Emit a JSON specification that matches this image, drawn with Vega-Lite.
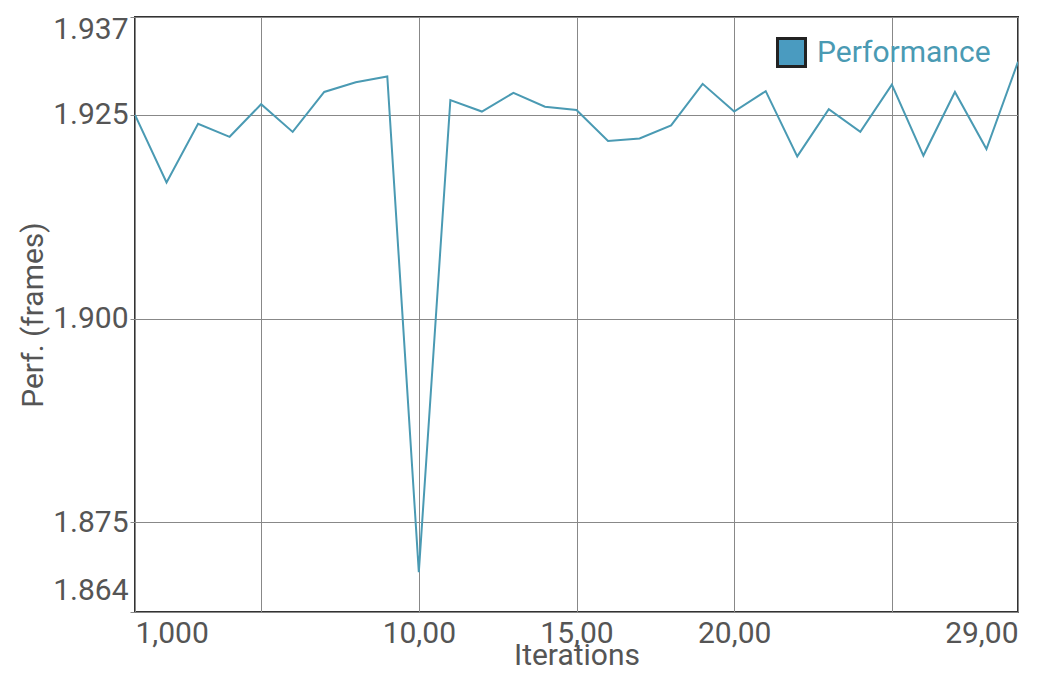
{
  "$schema": "https://vega.github.io/schema/vega-lite/v6.json",
  "width": 883,
  "height": 595,
  "autosize": "none",
  "padding": {"left": 135, "top": 17, "right": 40, "bottom": 76},
  "background": "white",
  "config": {
    "font": "Roboto",
    "view": {"stroke": "#333333", "strokeWidth": 2},
    "axis": {
      "labelFont": "Roboto",
      "labelFontSize": 30,
      "labelColor": "#555555",
      "titleFont": "Roboto",
      "titleFontSize": 30,
      "titleFontWeight": "normal",
      "titleColor": "#555555",
      "gridColor": "#888888",
      "gridWidth": 1,
      "gridOpacity": 1,
      "domain": false,
      "tickColor": "#888888"
    }
  },
  "data": {
    "values": [
      {"iter": 1, "perf": 1.9250, "series": "Performance"},
      {"iter": 2, "perf": 1.9167, "series": "Performance"},
      {"iter": 3, "perf": 1.9239, "series": "Performance"},
      {"iter": 4, "perf": 1.9223, "series": "Performance"},
      {"iter": 5, "perf": 1.9263, "series": "Performance"},
      {"iter": 6, "perf": 1.9229, "series": "Performance"},
      {"iter": 7, "perf": 1.9278, "series": "Performance"},
      {"iter": 8, "perf": 1.9290, "series": "Performance"},
      {"iter": 9, "perf": 1.9297, "series": "Performance"},
      {"iter": 10, "perf": 1.8689, "series": "Performance"},
      {"iter": 11, "perf": 1.9268, "series": "Performance"},
      {"iter": 12, "perf": 1.9254, "series": "Performance"},
      {"iter": 13, "perf": 1.9277, "series": "Performance"},
      {"iter": 14, "perf": 1.9260, "series": "Performance"},
      {"iter": 15, "perf": 1.9256, "series": "Performance"},
      {"iter": 16, "perf": 1.9218, "series": "Performance"},
      {"iter": 17, "perf": 1.9221, "series": "Performance"},
      {"iter": 18, "perf": 1.9237, "series": "Performance"},
      {"iter": 19, "perf": 1.9288, "series": "Performance"},
      {"iter": 20, "perf": 1.9254, "series": "Performance"},
      {"iter": 21, "perf": 1.9279, "series": "Performance"},
      {"iter": 22, "perf": 1.9199, "series": "Performance"},
      {"iter": 23, "perf": 1.9257, "series": "Performance"},
      {"iter": 24, "perf": 1.9229, "series": "Performance"},
      {"iter": 25, "perf": 1.9287, "series": "Performance"},
      {"iter": 26, "perf": 1.9200, "series": "Performance"},
      {"iter": 27, "perf": 1.9278, "series": "Performance"},
      {"iter": 28, "perf": 1.9208, "series": "Performance"},
      {"iter": 29, "perf": 1.9315, "series": "Performance"}
    ]
  },
  "encoding": {
    "x": {
      "field": "iter",
      "type": "quantitative",
      "scale": {"domain": [1, 29], "nice": false, "zero": false},
      "axis": {
        "title": "Iterations",
        "values": [1, 5, 10, 15, 20, 25, 29],
        "labelExpr": "datum.value == 1 ? '1,000' : datum.value == 10 ? '10,00' : datum.value == 15 ? '15,00' : datum.value == 20 ? '20,00' : datum.value == 29 ? '29,00' : ''",
        "labelFlush": true,
        "labelPadding": 6,
        "titlePadding": -8,
        "ticks": false
      }
    },
    "y": {
      "field": "perf",
      "type": "quantitative",
      "scale": {"domain": [1.864, 1.937], "nice": false, "zero": false},
      "axis": {
        "title": "Perf. (frames)",
        "values": [1.864, 1.875, 1.9, 1.925, 1.937],
        "format": ".3f",
        "labelFlush": false,
        "labelOffset": {"condition": [{"test": "datum.value < 1.87", "value": -22}, {"test": "datum.value > 1.93", "value": 12}], "value": 0},
        "labelPadding": 2,
        "tickSize": 5,
        "titlePadding": 4
      }
    }
  },
  "layer": [
    {
      "mark": {"type": "line", "strokeWidth": 2, "clip": true},
      "encoding": {
        "color": {
          "field": "series",
          "type": "nominal",
          "scale": {"range": ["#4a9ab3"]},
          "legend": null
        }
      }
    },
    {
      "transform": [{"filter": "datum.iter < 0"}],
      "mark": {"type": "square", "filled": true, "size": 784, "stroke": "#222222", "strokeWidth": 3, "opacity": 1},
      "encoding": {
        "fill": {
          "field": "series",
          "type": "nominal",
          "scale": {"domain": ["Performance"], "range": ["#4a9bc0"]},
          "legend": {
            "title": null,
            "orient": "none",
            "legendX": 641,
            "legendY": 20,
            "symbolType": "square",
            "symbolSize": 784,
            "symbolStrokeWidth": 3,
            "symbolStrokeColor": "#222222",
            "labelFontSize": 30,
            "labelFont": "Roboto",
            "labelColor": "#4a9ab3",
            "labelOffset": 10,
            "labelLimit": 400
          }
        },
        "stroke": {"value": "#222222"}
      }
    }
  ]
}
